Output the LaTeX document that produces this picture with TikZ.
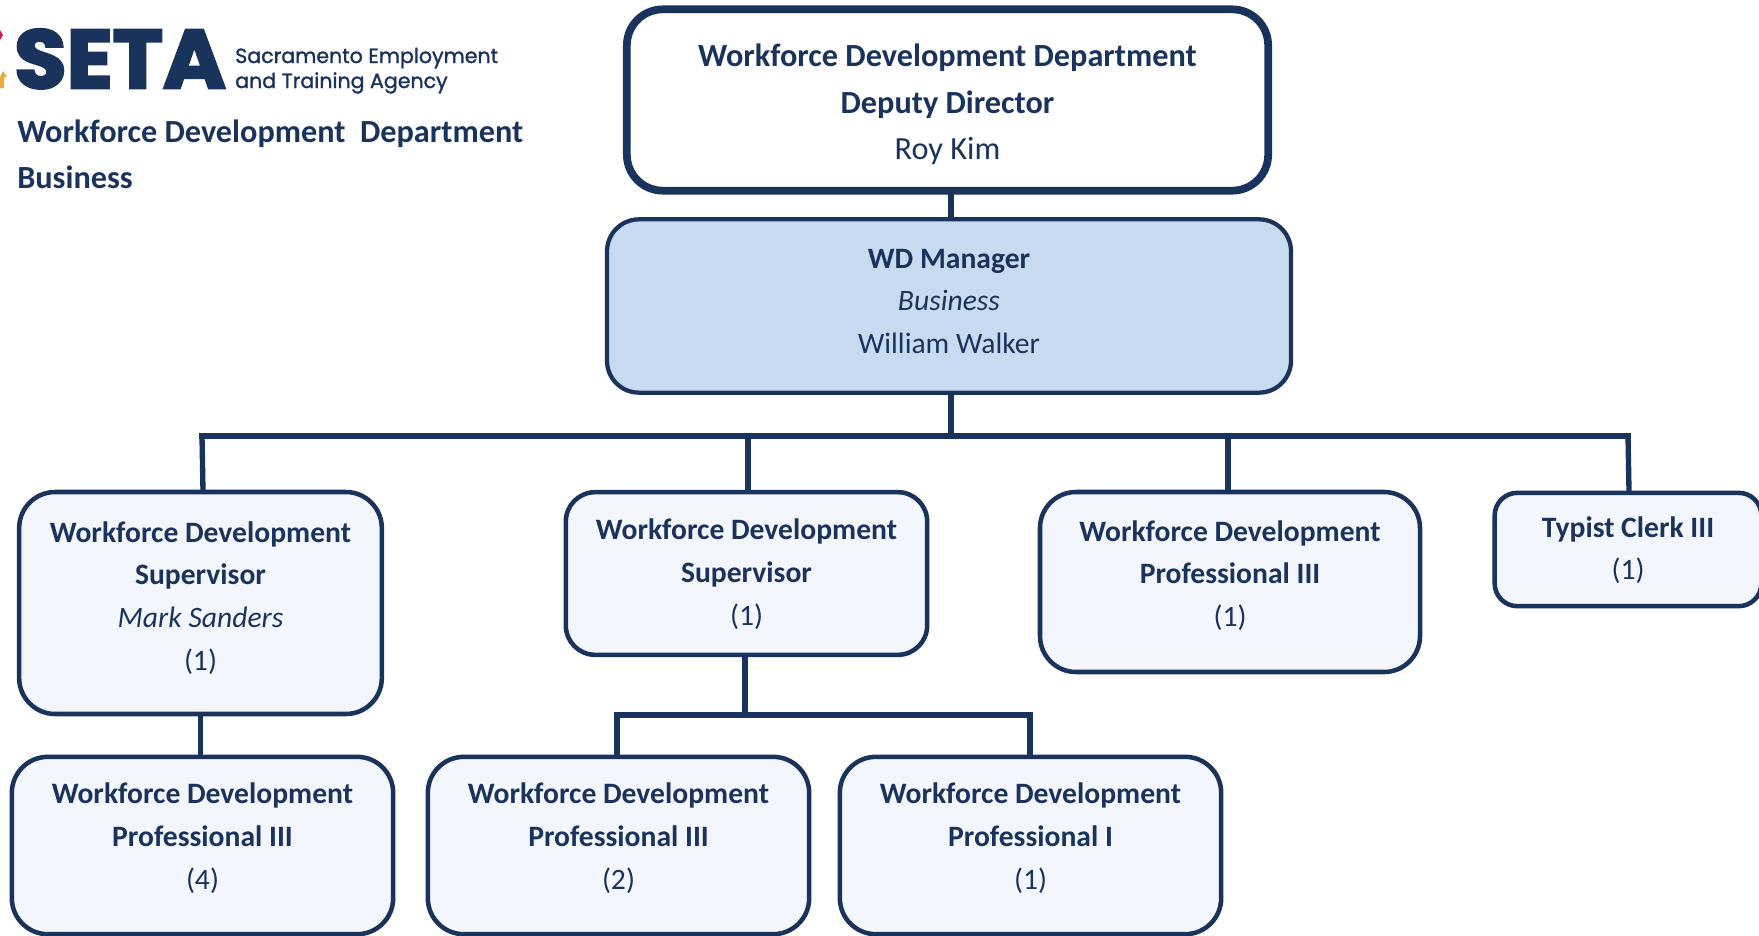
\documentclass[tikz,border=0pt]{standalone}
\usepackage{fontspec}
\setmainfont{Carlito}
\newfontfamily\logofont[BoldFeatures={FakeBold=3.2,FakeStretch=1.03}]{Poppins}
\newfontfamily\logosubfont[FakeBold=1.4]{Poppins}

\tikzset{
	navy/.style={color={rgb, 255:red, 26; green, 51; blue, 93 }},
	orgbox/.style={draw={rgb, 255:red, 26; green, 51; blue, 93 }, text={rgb, 255:red, 26; green, 51; blue, 93 }, fill={rgb, 255:red, 243; green, 246; blue, 252 }, line width=3.4pt, rounded corners=27pt, align=center, inner sep=0pt, font=\fontsize{22.2}{32}\selectfont},
	topbox/.style={orgbox, fill=white, line width=5.8pt, font=\fontsize{24.2}{34.9}\selectfont},
	mgrbox/.style={orgbox, fill={rgb, 255:red, 200; green, 220; blue, 241 }, line width=3.2pt, rounded corners=24pt},
	wire/.style={draw={rgb, 255:red, 26; green, 51; blue, 93 }, line width=4pt},
	heading/.style={anchor=base west, inner sep=0pt, navy, font=\fontsize{24.2}{34}\selectfont\bfseries}
}

\begin{document}
\begin{tikzpicture}[x=0.75pt,y=0.75pt,yscale=-1,xscale=1]
	\useasboundingbox (0,0) rectangle (1759,935);
	
	%Bus junctions
	\coordinate (busleft) at (202,436);
	\coordinate (busmid) at (951,436);
	\coordinate (busright) at (1628,436);
	\coordinate (subleft) at (617,715);
	\coordinate (submid) at (745,715);
	\coordinate (subright) at (1030,715);
	
	%Straight Lines
	\draw [wire] (951,190) -- (951,218) ;
	\draw [wire] (951,394) -- (busmid) ;
	\draw [wire, line cap=rect] (busleft) -- (busright) ;
	\draw [wire] (busleft) -- (203,491) ;
	\draw [wire] (748,436) -- (748,491) ;
	\draw [wire] (1228,436) -- (1228,491) ;
	\draw [wire] (busright) -- (1629,491) ;
	\draw [wire] (200.5,715) -- (200.5,755) ;
	\draw [wire] (submid |- 0,656) -- (submid) ;
	\draw [wire, line cap=rect] (subleft) -- (subright) ;
	\draw [wire] (subleft) -- (617,755) ;
	\draw [wire] (subright) -- (1030,755) ;
	
	%Shape: boxes
	\node [topbox, minimum width=481pt, minimum height=136pt] (deputy) at (947.5,100) {\mbox{}\\[-11pt]\textbf{Workforce Development Department}\\\textbf{Deputy Director}\\Roy Kim};
	\node [mgrbox, minimum width=513pt, minimum height=130pt] (mgr) at (949,306) {\textbf{WD Manager}\\\textit{Business}\\William Walker\\[-25pt]\mbox{}};
	\node [orgbox, minimum width=272pt, minimum height=166.5pt] (supa) at (200.5,603) {\textbf{Workforce Development}\\\textbf{Supervisor}\\\textit{Mark Sanders}\\(1)\\[-21pt]\mbox{}};
	\node [orgbox, minimum width=271pt, minimum height=122pt, rounded corners=22pt] (supb) at (746.5,573.5) {\textbf{Workforce Development}\\\textbf{Supervisor}\\(1)\\[-30pt]\mbox{}};
	\node [orgbox, minimum width=285pt, minimum height=135pt] (prof) at (1230,582) {\textbf{Workforce Development}\\\textbf{Professional III}\\(1)\\[-19pt]\mbox{}};
	\node [orgbox, minimum width=200pt, minimum height=85pt, rounded corners=17pt] (typist) at (1628,549.5) {\textbf{Typist Clerk III}\\(1)\\[-30pt]\mbox{}};
	\node [orgbox, minimum width=286pt, minimum height=133pt] (profa) at (202.5,845.5) {\textbf{Workforce Development}\\\textbf{Professional III}\\(4)\\[-18pt]\mbox{}};
	\node [orgbox, minimum width=286pt, minimum height=133pt] (profb) at (618.5,845.5) {\textbf{Workforce Development}\\\textbf{Professional III}\\(2)\\[-18pt]\mbox{}};
	\node [orgbox, minimum width=286pt, minimum height=133pt] (profc) at (1030.5,845.5) {\textbf{Workforce Development}\\\textbf{Professional I}\\(1)\\[-18pt]\mbox{}};
	
	% Text Node
	\node [anchor=base west, inner sep=0pt, navy, font=\fontsize{62}{62}\logofont\bfseries] (seta) at (14,88) {SETA};
	\node [anchor=base west, inner sep=0pt, navy, font=\fontsize{15.4}{15.4}\logosubfont] (sacto) at (235,63) {Sacramento Employment};
	\node [anchor=base west, inner sep=0pt, navy, font=\fontsize{15.4}{15.4}\logosubfont] (agency) at (235,88) {and Training Agency};
	\node [heading] (dept) at (17,142) {Workforce Development\ \ Department};
	\node [heading] (biz) at (17,188) {Business};
	
	%Shape: logo marks
	\fill [color={rgb, 255:red, 200; green, 30; blue, 80 }] (0,30) -- (3,35) -- (0,40) -- cycle ;
	\fill [color={rgb, 255:red, 235; green, 170; blue, 60 }] (0,77) -- (3,71) -- (7,77) -- (4,77) -- (4,88) -- (0,88) -- cycle ;
\end{tikzpicture}
\end{document}
